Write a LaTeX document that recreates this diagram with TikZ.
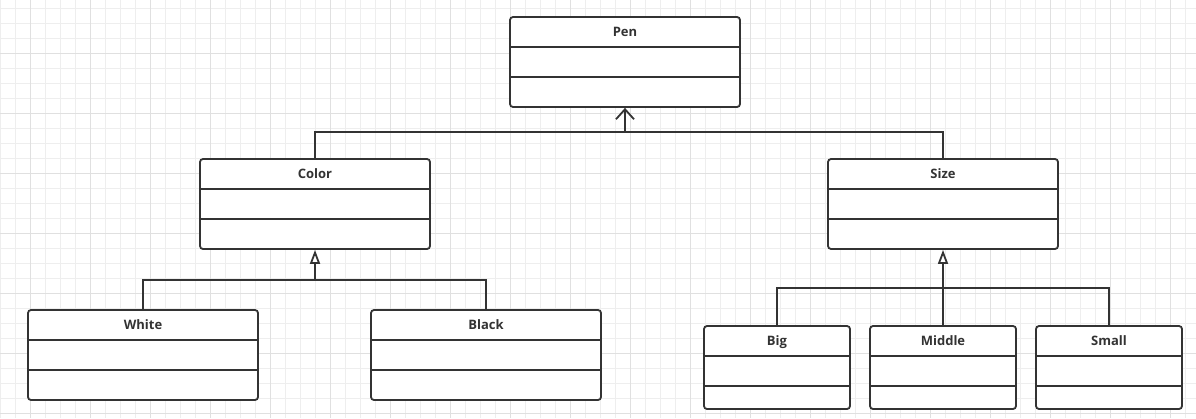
\documentclass[tikz,border=0pt]{standalone}
\usepackage{fontspec}
\setmainfont{Open Sans}
\usetikzlibrary{arrows.meta}
\definecolor{ink}{HTML}{333333}
\definecolor{gridminor}{HTML}{EEEEEE}
\definecolor{gridmajor}{HTML}{E0E0E0}
\newcommand\umlclass[8]{% name, left, top, right, bottom, div1, div2, title
  \node[classshape, minimum width={#4-#2}, minimum height={#5-#3}] (#1) at ({(#2+#4)/2},{(#3+#5)/2}) {};
  \draw[divline] (#2,#6) -- (#4,#6);
  \draw[divline] (#2,#7) -- (#4,#7);
  \node[titletext] (#1-title) at ({(#2+#4)/2},{(#3+#6)/2}) {#8};
}
\begin{document}
\begin{tikzpicture}[x=1pt,y=-1pt,
  classshape/.style={draw=ink, line width=1.8pt, rounded corners=3pt, fill=white, inner sep=0pt},
  divline/.style={draw=ink, line width=1.8pt},
  titletext/.style={font=\bfseries\fontsize{13}{15}\selectfont, text=ink, inner sep=0pt, text height=9.3pt, text depth=0pt},
  link/.style={draw=ink, line width=1.8pt},
  inherit/.style={link, -{Triangle[open, length=14pt, width=10pt, line width=1.8pt, fill=white]}},
  openarrow/.style={link, -{Straight Barb[length=10pt, width=18pt, line width=1.8pt]}}]
\useasboundingbox (0,0) rectangle (1196,418);
\fill[white] (0,0) rectangle (1196,418);
% grid
\foreach \gx in {0.7,15.7,...,1196} \draw[gridminor, line width=1pt] (\gx,0) -- (\gx,418);
\foreach \gy in {8.3,23.3,...,418} \draw[gridminor, line width=1pt] (0,\gy) -- (1196,\gy);
\foreach \gx in {30.7,90.7,...,1196} \draw[gridmajor, line width=1pt] (\gx,0) -- (\gx,418);
\foreach \gy in {53.3,113.3,...,418} \draw[gridmajor, line width=1pt] (0,\gy) -- (1196,\gy);
% classes
\umlclass{pen}{510}{17}{740}{107}{47}{77}{Pen}
\umlclass{color}{200}{159}{430}{249}{189}{219}{Color}
\umlclass{size}{828}{159}{1058}{249}{189}{219}{Size}
\umlclass{white}{28}{310}{258}{400}{340}{370}{White}
\umlclass{black}{371}{310}{601}{400}{340}{370}{Black}
\umlclass{big}{704}{326}{850}{409}{356}{386}{Big}
\umlclass{middle}{870}{326}{1016}{409}{356}{386}{Middle}
\umlclass{small}{1036}{326}{1182}{409}{356}{386}{Small}
% connectors
\coordinate (pj) at (625,132);
\coordinate (cj) at (315,280);
\coordinate (sj) at (943,288);
\draw[link] (color.north) |- (pj) -| (size.north);
\draw[openarrow] (pj) -- (pen.south);
\draw[link] (white.north) |- (cj) -| (black.north);
\draw[inherit] (cj) -- (color.south);
\draw[link] (big.north) |- (sj) -| (small.north);
\draw[link] (middle.north) -- (sj);
\draw[inherit] (sj) -- (size.south);
\end{tikzpicture}
\end{document}
